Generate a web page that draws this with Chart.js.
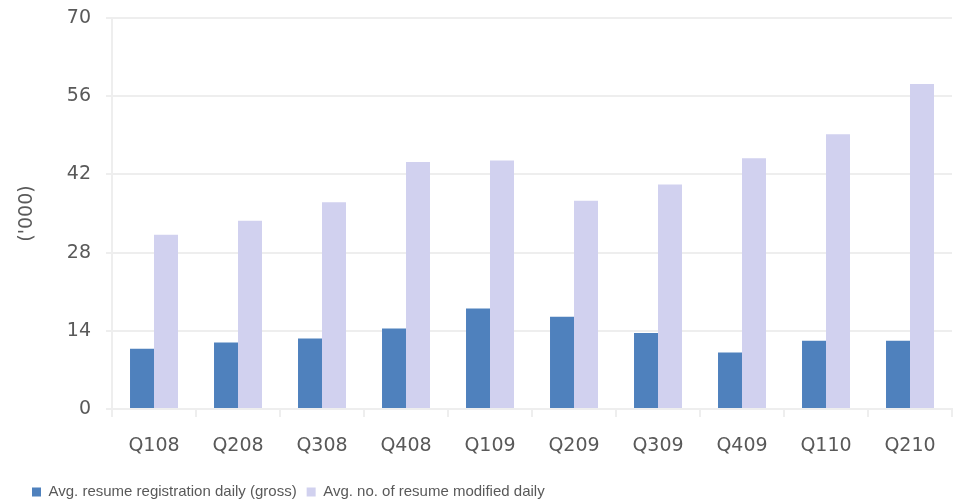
<!DOCTYPE html>
<html>
<head>
<meta charset="utf-8">
<script src="https://cdn.jsdelivr.net/npm/chart.js@4"></script>
<style>
  html, body { margin: 0; padding: 0; background: #fff; }
  #wrap { width: 961px; height: 502px; }
</style>
</head>
<body>
<div id="wrap"><canvas id="myChart"></canvas></div>
<script>
// Dados do gráfico
const quarters = ['Q108', 'Q208', 'Q308', 'Q408', 'Q109', 'Q209', 'Q309', 'Q409', 'Q110', 'Q210'];
const registrations = [10.8, 11.9, 12.6, 14.4, 18.0, 16.5, 13.6, 10.1, 12.2, 12.2];
const modified = [31.2, 33.7, 37.0, 44.2, 44.5, 37.3, 40.2, 44.9, 49.2, 58.2];
const yTicks = [0, 14, 28, 42, 56, 70];

const gridColor = '#EEEEEE';
const textColor = '#595959';

// move a legenda para baixo e para a esquerda
const legendPos = {
    id: 'legendPos',
    afterLayout(chart) {
        const lg = chart.legend;
        lg.left = 22;
        lg.top = 493 - 10 - 8.5;
    }
};

const config = {
    type: 'bar',
    data: {
        labels: quarters,
        datasets: [{
            label: 'Avg. resume registration daily (gross)',
            data: registrations,
            backgroundColor: '#4F81BD'
        }, {
            label: 'Avg. no. of resume modified daily',
            data: modified,
            backgroundColor: '#D1D1EF'
        }]
    },
    options: {
        responsive: true,
        maintainAspectRatio: false,
        animation: false,
        layout: { padding: { top: 18, right: 9, bottom: 0, left: 0 } },
        datasets: {
            bar: { barPercentage: 1, categoryPercentage: 0.571 }
        },
        scales: {
            x: {
                grid: { drawOnChartArea: false, offset: true, color: gridColor, lineWidth: 2, tickLength: 8 },
                border: { color: gridColor, width: 2 },
                ticks: { color: textColor, font: { family: 'DejaVu Sans', size: 19 }, padding: 18 },
                afterFit(scale) { scale.height = 58; }
            },
            y: {
                min: 0,
                max: 70,
                afterBuildTicks(scale) { scale.ticks = yTicks.map(v => ({ value: v })); },
                grid: { color: gridColor, lineWidth: 2, tickLength: 6 },
                border: { color: gridColor, width: 2 },
                ticks: { color: textColor, font: { family: 'DejaVu Sans', size: 19 }, padding: 15 },
                title: {
                    display: true,
                    text: "('000)",
                    color: textColor,
                    font: { family: 'DejaVu Sans', size: 19 },
                    padding: { top: 16, bottom: 0 }
                },
                afterFit(scale) {
                    scale.width = 112;
                    scale.paddingTop = 0;
                    scale.paddingBottom = 0;
                }
            }
        },
        plugins: {
            legend: {
                position: 'bottom',
                align: 'start',
                labels: {
                    boxWidth: 9,
                    boxHeight: 9,
                    padding: 10,
                    color: textColor,
                    font: { family: 'Liberation Sans', size: 15 }
                }
            },
            tooltip: { enabled: false },
            title: { display: false }
        }
    },
    plugins: [legendPos]
};

const ctx = document.getElementById('myChart').getContext('2d');
new Chart(ctx, config);
</script>
</body>
</html>
